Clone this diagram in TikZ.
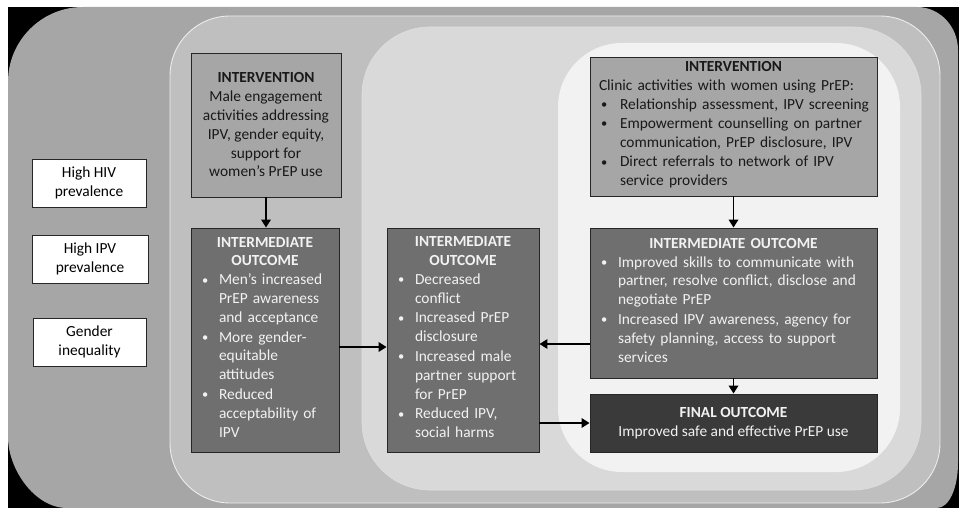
\documentclass[tikz,border=0pt]{standalone}
\usepackage{fontspec}
\setmainfont{Carlito}
\usetikzlibrary{arrows.meta}
\setlength{\parindent}{0pt}
\definecolor{gA}{HTML}{A6A6A6}
\definecolor{gB}{HTML}{BFBFBF}
\definecolor{gC}{HTML}{D9D9D9}
\definecolor{gD}{HTML}{F2F2F2}
\definecolor{intF}{HTML}{A6A6A6}
\definecolor{ioF}{HTML}{6F6F6F}
\definecolor{finF}{HTML}{3A3A3A}
\definecolor{bordr}{HTML}{262626}
\definecolor{lt}{HTML}{F2F2F2}
\newlength{\bw}\setlength{\bw}{19pt}
\newcommand{\bl}[1]{\par\noindent\hbox to \bw{\hspace{2pt}\raisebox{0.6pt}{\fontsize{12.5}{12.5}\selectfont\textbullet}\hfil}\begin{tabular}[t]{@{}l@{}}#1\end{tabular}\par}
\begin{document}
\begin{tikzpicture}[x=1pt,y=-1pt,
  txt/.style={font=\fontsize{15.4}{18.8}\selectfont},
  whitebox/.style={txt,draw=bordr,line width=0.9pt,fill=white,text=black,align=center,inner sep=0pt},
  intbox/.style={txt,draw=bordr,line width=0.9pt,fill=intF,text=black!90,inner xsep=9pt,inner ysep=0pt},
  iobox/.style={txt,draw=bordr,line width=0.9pt,fill=ioF,text=lt,inner xsep=9pt,inner ysep=0pt},
  finbox/.style={txt,draw=bordr,line width=0.9pt,fill=finF,text=lt,align=center,inner sep=0pt},
  arr/.style={line width=1.8pt,-{Triangle[length=8pt,width=9.5pt]}}]
\useasboundingbox (0,0) rectangle (959,508);
% background
\fill[black] (8,7) rectangle (959,508);
\fill[gA] (8,82) .. controls (8,40.6) and (41.6,7) .. (83,7)
  -- (917,7) .. controls (939.6,7) and (958,26.3) .. (958,50)
  -- (958,463) .. controls (958,487.9) and (949.2,508) .. (937,508)
  -- (67,508) .. controls (34.4,508) and (8,468.8) .. (8,437) -- cycle;
\draw[fill=gB,draw=white!85!gray,line width=0.9pt,rounded corners=60pt] (170,16) rectangle (940,503);
\draw[fill=gC,draw=white!75!gray,line width=0.6pt,rounded corners=68pt] (362,27) rectangle (921,490);
\fill[gD,rounded corners=64pt] (558,43) rectangle (900,472);
% context boxes
\node[whitebox,minimum width=114pt,minimum height=48pt] (hiv) at (89,183) {High HIV\\prevalence};
\node[whitebox,minimum width=116pt,minimum height=48pt] (ipv) at (90,259) {High IPV\\prevalence};
\node[whitebox,minimum width=113pt,minimum height=48pt] (gen) at (89.5,342) {Gender\\inequality};
% left intervention
\node[intbox,align=center,minimum width=150pt,minimum height=144pt] (int1) at (266,125)
  {\textbf{INTERVENTION}\\Male engagement\\activities addressing\\IPV, gender equity,\\support for\\women’s PrEP use};
% intermediate outcome 1
\node[iobox,text width=130pt,align=left,minimum width=148pt,minimum height=224pt] (io1) at (265,340)
  {{\centering\bfseries INTERMEDIATE\\OUTCOME\par}
   \bl{Men’s increased\\PrEP awareness\\and acceptance}
   \bl{More gender-\\equitable\\attitudes}
   \bl{Reduced\\acceptability of\\IPV}};
% intermediate outcome 2
\node[iobox,text width=134pt,align=left,minimum width=152pt,minimum height=224pt] (io2) at (463,340)
  {{\centering\bfseries INTERMEDIATE\\OUTCOME\par}
   \bl{Decreased\\conflict}
   \bl{Increased PrEP\\disclosure}
   \bl{Increased male\\partner support\\for PrEP}
   \bl{Reduced IPV,\\social harms}};
% right intervention
\node[intbox,text width=269pt,align=left,minimum width=287pt,minimum height=139pt] (int2) at (733.5,126.5)
  {\setlength{\bw}{21pt}{\centering\bfseries INTERVENTION\par}
   \noindent\mbox{Clinic activities with women using PrEP:}\par
   \bl{Relationship assessment, IPV screening}
   \bl{Empowerment counselling on partner\\communication, PrEP disclosure, IPV}
   \bl{Direct referrals to network of IPV\\service providers}};
% intermediate outcome 3
\node[iobox,text width=269pt,align=left,minimum width=287pt,minimum height=150pt] (io3) at (733.5,303)
  {{\centering\bfseries INTERMEDIATE OUTCOME\par}
   \bl{Improved skills to communicate with\\partner, resolve conflict, disclose and\\negotiate PrEP}
   \bl{Increased IPV awareness, agency for\\safety planning, access to support\\services}};
% final outcome
\node[finbox,minimum width=287pt,minimum height=58pt] (fin) at (733.5,423)
  {\textbf{FINAL OUTCOME}\\Improved safe and effective PrEP use};
% arrows
\draw[arr] (int1.south) -- (int1.south |- io1.north);
\draw[arr] ([yshift=-7pt]io1.east) -- ([yshift=-7pt]io1.east -| io2.west);
\draw[arr] ([yshift=-41pt]io3.west) -- ([yshift=-41pt]io3.west -| io2.east);
\draw[arr] (io2.east |- fin.west) -- (fin.west);
\draw[arr] (int2.south) -- (int2.south |- io3.north);
\draw[arr] (io3.south) -- (io3.south |- fin.north);
\end{tikzpicture}
\end{document}
